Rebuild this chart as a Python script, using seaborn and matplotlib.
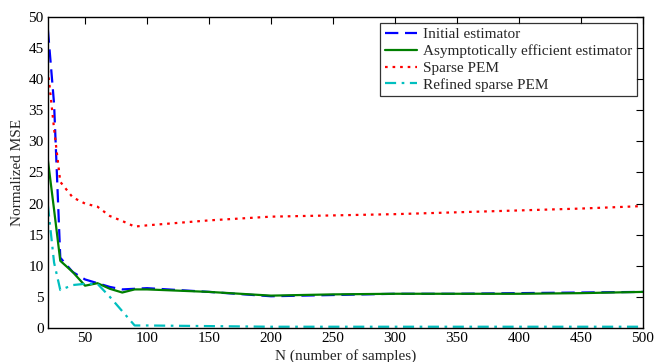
import numpy as np
import pandas as pd
import matplotlib
matplotlib.use("Agg")
import matplotlib.pyplot as plt
import seaborn as sns

N = [20, 25, 30, 40, 50, 60, 70, 80, 90, 100, 150, 200, 250, 300, 350, 400, 450, 500]
initial = [48, 36, 11.3, 9.0, 7.8, 7.2, 6.6, 6.2, 6.3, 6.4, 5.8, 5.1, 5.3, 5.5, 5.5, 5.6, 5.7, 5.8]
asympt = [27, 19, 10.8, 9.0, 6.8, 7.2, 6.3, 5.7, 6.2, 6.2, 5.8, 5.2, 5.4, 5.5, 5.5, 5.5, 5.6, 5.8]
sparse = [41.5, 32, 23.5, 21.0, 20.0, 19.5, 18.0, 17.2, 16.3, 16.5, 17.3, 17.9, 18.1, 18.3, 18.6, 18.9, 19.2, 19.6]
refined = [19.7, 10.5, 6.1, 6.9, 7.1, 7.1, 5.0, 2.7, 0.4, 0.4, 0.3, 0.2, 0.2, 0.2, 0.2, 0.2, 0.2, 0.2]

labels = ["Initial estimator", "Asymptotically efficient estimator",
          "Sparse PEM", "Refined sparse PEM"]
series = [initial, asympt, sparse, refined]
colors = ["#0000ff", "#007f00", "#ff0000", "#00bfbf"]
styles = [(0, (6, 3)), "-", (0, (1.2, 2.2)), (0, (5, 2.5, 1.2, 2.5))]

sns.set_style("white")
plt.rcParams['font.family'] = ['Liberation Serif', 'DejaVu Serif']

fig = plt.figure(figsize=(6.56, 3.62), dpi=100)
ax = fig.add_axes([0.073, 0.094, 0.907, 0.859])

for lab, vals, c, ls in zip(labels, series, colors, styles):
    df = pd.DataFrame({"N": N, "v": vals})
    sns.lineplot(data=df, x="N", y="v", ax=ax, color=c, linestyle=ls,
                 linewidth=1.6, label=lab)

ax.set_xlim(20, 500)
ax.set_ylim(0, 50)
ax.set_xticks([50, 100, 150, 200, 250, 300, 350, 400, 450, 500])
ax.set_yticks([0, 5, 10, 15, 20, 25, 30, 35, 40, 45, 50])
ax.tick_params(direction="in", top=True, right=True, length=5, width=0.8,
               labelsize=11, colors="black", pad=3)
for s in ax.spines.values():
    s.set_color("black")
    s.set_linewidth(1.0)
ax.set_xlabel("N (number of samples)", fontsize=11, labelpad=3)
ax.set_ylabel("Normalized MSE", fontsize=11, labelpad=3)

leg = ax.legend(loc="upper right", fontsize=11, frameon=True, fancybox=False,
                edgecolor="black", handlelength=2.1, handletextpad=0.4,
                labelspacing=0.2, borderpad=0.3, borderaxespad=0.4)
leg.get_frame().set_linewidth(0.9)

fig.savefig("out.png", dpi=100)
